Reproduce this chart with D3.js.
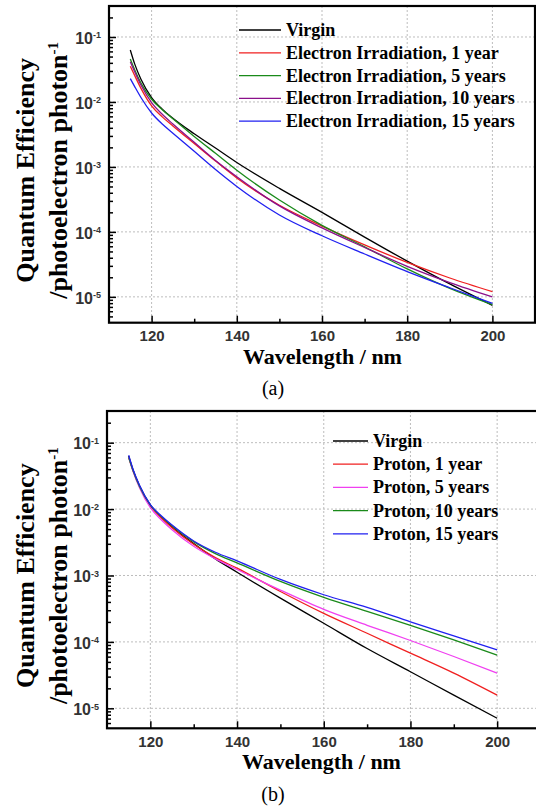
<!DOCTYPE html>
<html>
<head>
<meta charset="utf-8">
<script src="https://cdn.jsdelivr.net/npm/d3@7"></script>
<style>
  body { margin: 0; background: #fff; }
  svg { display: block; }
</style>
</head>
<body>
<script>
// wavelengths the curves were read at (nm)
const wavelength = [115, 116, 117.5, 120, 122.5, 125, 130, 135, 140, 150, 160, 170, 180, 190, 200];

// (a) electron irradiation
const electronLabels = ["Virgin", "Electron Irradiation, 1 year", "Electron Irradiation, 5 years",
                        "Electron Irradiation, 10 years", "Electron Irradiation, 15 years"];
const eVirgin  = [6.31e-2, 3.89e-2, 2.24e-2, 1.17e-2, 7.76e-3, 5.62e-3, 3.24e-3, 1.95e-3, 1.17e-3, 4.68e-4, 2.0e-4, 8.32e-5, 3.55e-5, 1.58e-5, 7.41e-6];
const e1year   = [3.55e-2, 2.57e-2, 1.62e-2, 8.71e-3, 5.89e-3, 4.27e-3, 2.29e-3, 1.23e-3, 6.76e-4, 2.57e-4, 1.23e-4, 6.31e-5, 3.39e-5, 1.95e-5, 1.20e-5];
const e5years  = [4.57e-2, 3.16e-2, 1.95e-2, 1.10e-2, 7.59e-3, 5.50e-3, 2.95e-3, 1.62e-3, 8.91e-4, 3.09e-4, 1.26e-4, 5.89e-5, 2.69e-5, 1.35e-5, 7.59e-6];
const e10years = [4.17e-2, 2.95e-2, 1.82e-2, 9.77e-3, 6.46e-3, 4.57e-3, 2.40e-3, 1.26e-3, 7.08e-4, 2.51e-4, 1.15e-4, 5.75e-5, 2.95e-5, 1.66e-5, 1.0e-5];
const e15years = [2.29e-2, 1.74e-2, 1.17e-2, 6.76e-3, 4.57e-3, 3.31e-3, 1.74e-3, 9.12e-4, 5.01e-4, 1.82e-4, 8.71e-5, 4.57e-5, 2.45e-5, 1.38e-5, 7.94e-6];

// (b) proton irradiation
const protonLabels = ["Virgin", "Proton, 1 year", "Proton, 5 years", "Proton, 10 years", "Proton, 15 years"];
const pVirgin  = [6.31e-2, 3.89e-2, 2.24e-2, 1.15e-2, 7.59e-3, 5.37e-3, 3.02e-3, 1.78e-3, 1.12e-3, 4.57e-4, 1.91e-4, 7.94e-5, 3.55e-5, 1.58e-5, 7.08e-6];
const p1year   = [6.03e-2, 3.80e-2, 2.19e-2, 1.12e-2, 7.41e-3, 5.25e-3, 2.95e-3, 1.86e-3, 1.29e-3, 5.75e-4, 2.69e-4, 1.35e-4, 6.76e-5, 3.39e-5, 1.58e-5];
const p5years  = [6.03e-2, 3.72e-2, 2.09e-2, 1.05e-2, 6.92e-3, 4.90e-3, 2.75e-3, 1.78e-3, 1.23e-3, 6.03e-4, 3.09e-4, 1.78e-4, 1.05e-4, 6.03e-5, 3.39e-5];
const p10years = [6.03e-2, 3.80e-2, 2.19e-2, 1.15e-2, 7.76e-3, 5.62e-3, 3.24e-3, 2.14e-3, 1.55e-3, 8.13e-4, 4.68e-4, 2.88e-4, 1.78e-4, 1.07e-4, 6.31e-5];
const p15years = [6.46e-2, 3.98e-2, 2.29e-2, 1.17e-2, 7.94e-3, 5.75e-3, 3.31e-3, 2.24e-3, 1.66e-3, 8.71e-4, 5.13e-4, 3.31e-4, 2.0e-4, 1.23e-4, 7.59e-5];

// ticks
const xMajor = [120, 140, 160, 180, 200];
const xMinor = [130, 150, 170, 190];
const yDecades = [1e-1, 1e-2, 1e-3, 1e-4, 1e-5];
const yExpLabels = ["-1", "-2", "-3", "-4", "-5"];

const serif = "'Liberation Serif', 'Times New Roman', serif";
const sans = "'Liberation Sans', Arial, sans-serif";

const svg = d3.select("body").append("svg")
  .attr("width", 536)
  .attr("height", 812);

function drawPanel(p) {
  const x = d3.scaleLinear().domain([110, 210]).range([p.left, p.right]);
  const y = d3.scaleLog().domain(p.yDomain).range([p.bottom, p.top]);
  const g = svg.append("g");

  // dotted grid at major ticks
  g.append("g").selectAll("line").data(xMajor).join("line")
    .attr("x1", d => x(d)).attr("x2", d => x(d))
    .attr("y1", p.top).attr("y2", p.bottom);
  g.append("g").selectAll("line").data(yDecades).join("line")
    .attr("x1", p.left).attr("x2", p.right)
    .attr("y1", d => y(d)).attr("y2", d => y(d));
  g.selectAll("g line")
    .attr("stroke", "#bdbdbd")
    .attr("stroke-width", 1)
    .attr("stroke-dasharray", "2,2");

  // curves
  const line = d3.line()
    .x((d, i) => x(wavelength[i]))
    .y(d => y(d))
    .curve(d3.curveMonotoneX);
  g.append("g").selectAll("path").data(p.series).join("path")
    .attr("d", d => line(d.values))
    .attr("fill", "none")
    .attr("stroke", d => d.color)
    .attr("stroke-width", 1.3);

  // x axis (ticks pointing inward)
  const xAx = g.append("g")
    .attr("transform", `translate(0,${p.bottom})`)
    .call(d3.axisBottom(x).tickValues(xMajor).tickSize(-7).tickSizeOuter(0).tickPadding(8).tickFormat(d3.format("d")));
  g.append("g")
    .attr("transform", `translate(0,${p.bottom})`)
    .call(d3.axisBottom(x).tickValues(xMinor).tickSize(-4).tickSizeOuter(0).tickFormat(""));

  // y axis
  const minor = [];
  yDecades.concat([1e-6]).forEach(dec => {
    for (let m = 2; m <= 9; m++) {
      const v = dec * m;
      if (v > p.yDomain[0] && v < p.yDomain[1]) minor.push(v);
    }
  });
  const yAx = g.append("g")
    .attr("transform", `translate(${p.left},0)`)
    .call(d3.axisLeft(y).tickValues(yDecades).tickSize(-7).tickSizeOuter(0).tickPadding(8));
  g.append("g")
    .attr("transform", `translate(${p.left},0)`)
    .call(d3.axisLeft(y).tickValues(minor).tickSize(-4).tickSizeOuter(0).tickFormat(""));

  g.selectAll(".tick line").attr("stroke-width", 1.5);
  g.selectAll(".domain").remove();

  [xAx, yAx].forEach(a => a.attr("font-family", sans).attr("font-size", 15)
    .attr("font-weight", "bold").attr("fill", "#333"));
  xAx.selectAll(".tick text").attr("fill", "#333");
  yAx.selectAll(".tick text")
    .attr("fill", "#333")
    .attr("dy", "0.42em")
    .text(null)
    .each(function(d, i) {
      const t = d3.select(this);
      t.append("tspan").attr("font-size", 16).text("10");
      t.append("tspan").attr("dy", "-0.6em").attr("font-size", 9).text(yExpLabels[i]);
    });

  // frame
  g.append("rect")
    .attr("x", p.left).attr("y", p.top)
    .attr("width", p.right - p.left).attr("height", p.bottom - p.top)
    .attr("fill", "none").attr("stroke", "#000").attr("stroke-width", 2.2);

  // legend
  const leg = g.append("g").selectAll("g").data(p.series).join("g")
    .attr("transform", (d, i) => `translate(0,${p.legY + i * p.legStep})`);
  leg.append("line")
    .attr("x1", p.legX1).attr("x2", p.legX2)
    .attr("stroke", d => d.color).attr("stroke-width", 1.3);
  leg.append("text")
    .attr("x", p.legX2 + 5).attr("dy", "0.33em")
    .attr("font-family", serif).attr("font-weight", "bold").attr("font-size", 18)
    .text(d => d.label);

  // axis titles
  g.append("text")
    .attr("x", (p.left + Math.min(p.right, 534)) / 2 + 1).attr("y", p.bottom + 41)
    .attr("text-anchor", "middle")
    .attr("font-family", serif).attr("font-weight", "bold").attr("font-size", 22)
    .text("Wavelength / nm");

  const cy = (p.top + p.bottom) / 2 + 6;
  g.append("text")
    .attr("transform", `translate(34,${cy}) rotate(-90)`)
    .attr("text-anchor", "middle")
    .attr("font-family", serif).attr("font-weight", "bold").attr("font-size", 26)
    .text("Quantum Efficiency");
  const t2 = g.append("text")
    .attr("transform", `translate(67,${cy}) rotate(-90)`)
    .attr("text-anchor", "middle")
    .attr("font-family", serif).attr("font-weight", "bold").attr("font-size", 26);
  t2.append("tspan").text("/photoelectron photon");
  t2.append("tspan").attr("dy", "-0.6em").attr("font-size", 15).text("-1");

  // caption
  g.append("text")
    .attr("x", 273).attr("y", p.caption)
    .attr("text-anchor", "middle")
    .attr("font-family", serif).attr("font-size", 20)
    .text(p.tag);
}

const electronColors = ["#000000", "#f02020", "#1a8a1a", "#8b108b", "#2020f0"];
const protonColors = ["#000000", "#f02020", "#f040f0", "#1a8a1a", "#2020f0"];

drawPanel({
  left: 109, right: 535, top: 6, bottom: 322.7,
  yDomain: [4e-6, 0.3],
  series: [eVirgin, e1year, e5years, e10years, e15years].map((v, i) =>
    ({ values: v, label: electronLabels[i], color: electronColors[i] })),
  legX1: 239, legX2: 281, legY: 30, legStep: 22.8,
  caption: 395, tag: "(a)"
});

drawPanel({
  left: 107, right: 540.5, top: 411, bottom: 728.3,
  yDomain: [5e-6, 0.3],
  series: [pVirgin, p1year, p5years, p10years, p15years].map((v, i) =>
    ({ values: v, label: protonLabels[i], color: protonColors[i] })),
  legX1: 333, legX2: 368, legY: 441, legStep: 23.2,
  caption: 801, tag: "(b)"
});
</script>
</body>
</html>
